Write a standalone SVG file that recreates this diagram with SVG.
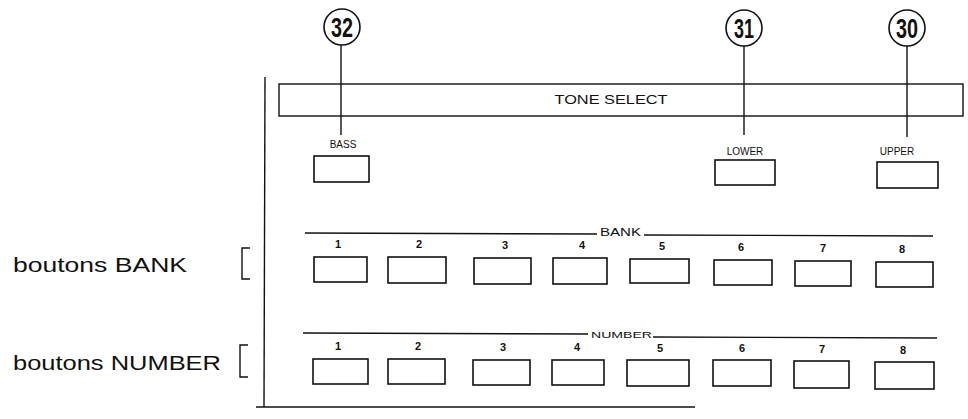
<svg xmlns="http://www.w3.org/2000/svg" width="968" height="419" viewBox="0 0 968 419">
<style>
.ln{stroke:#111;stroke-width:1.4;fill:none}
.btn{stroke:#111;stroke-width:1.6;fill:#fff}
.cir{stroke:#111;stroke-width:1.6;fill:#fff}
.cn{font-family:"Liberation Sans",Arial,sans-serif;font-weight:bold;font-size:28px;fill:#111;text-anchor:middle}
.sm{font-family:"Liberation Sans",Arial,sans-serif;font-size:10px;fill:#111;text-anchor:middle}
.hd{font-family:"Liberation Sans",Arial,sans-serif;font-size:10px;fill:#111;text-anchor:start}
.num{font-family:"Liberation Sans",Arial,sans-serif;font-weight:bold;font-size:11px;fill:#111;text-anchor:middle}
.lab{font-family:"Liberation Sans",Arial,sans-serif;font-size:21px;fill:#111}
</style>
<rect width="968" height="419" fill="#fff"/>
<g id="panel">
<line class="ln" x1="265" y1="77" x2="264" y2="407"/>
<line class="ln" x1="256" y1="407" x2="695" y2="407"/>
<rect class="ln" x="279" y="84" width="684" height="32" stroke-width="1.6"/>
<text x="611" y="104" font-family="Liberation Sans,Arial,sans-serif" font-size="13" fill="#111" text-anchor="middle" textLength="113" lengthAdjust="spacingAndGlyphs">TONE SELECT</text>
</g>
<g id="connectors">
<line class="ln" x1="341" y1="45" x2="341" y2="135"/>
<line class="ln" x1="744" y1="46" x2="744" y2="135"/>
<line class="ln" x1="907" y1="46" x2="907" y2="137"/>
</g>
<g id="c32"><circle class="cir" cx="342" cy="27" r="18"/><text class="cn" x="342" y="37" textLength="22" lengthAdjust="spacingAndGlyphs">32</text></g>
<g id="c31"><circle class="cir" cx="744" cy="28" r="18"/><text class="cn" x="744" y="38" textLength="20" lengthAdjust="spacingAndGlyphs">31</text></g>
<g id="c30"><circle class="cir" cx="907" cy="28" r="18"/><text class="cn" x="907" y="38" textLength="22" lengthAdjust="spacingAndGlyphs">30</text></g>
<g id="bass"><text class="sm" x="343" y="148">BASS</text><rect class="btn" x="314" y="156" width="55" height="26"/></g>
<g id="lower"><text class="sm" x="745" y="155">LOWER</text><rect class="btn" x="715" y="160" width="60" height="25"/></g>
<g id="upper"><text class="sm" x="897" y="155">UPPER</text><rect class="btn" x="877" y="162" width="61" height="26"/></g>
<g id="bank">
<line class="ln" x1="305" y1="233" x2="597" y2="234"/>
<text class="hd" x="600" y="236" textLength="41" lengthAdjust="spacingAndGlyphs">BANK</text>
<line class="ln" x1="644" y1="235" x2="933" y2="236"/>
<text class="num" x="338" y="248">1</text>
<text class="num" x="419" y="248">2</text>
<text class="num" x="505" y="249">3</text>
<text class="num" x="582" y="249">4</text>
<text class="num" x="662" y="250">5</text>
<text class="num" x="741" y="251">6</text>
<text class="num" x="823" y="252">7</text>
<text class="num" x="902" y="253">8</text>
<rect class="btn" x="314" y="257" width="53" height="25"/>
<rect class="btn" x="388" y="257" width="58" height="26"/>
<rect class="btn" x="474" y="258" width="57" height="26"/>
<rect class="btn" x="553" y="258" width="54" height="26"/>
<rect class="btn" x="630" y="259" width="59" height="24"/>
<rect class="btn" x="714" y="260" width="58" height="25"/>
<rect class="btn" x="795" y="261" width="56" height="25"/>
<rect class="btn" x="876" y="262" width="57" height="25"/>
</g>
<g id="number">
<line class="ln" x1="303" y1="333" x2="588" y2="334"/>
<text class="hd" x="591" y="338" textLength="61" lengthAdjust="spacingAndGlyphs" style="font-size:9px">NUMBER</text>
<line class="ln" x1="653" y1="337" x2="937" y2="338"/>
<text class="num" x="338" y="350">1</text>
<text class="num" x="418" y="350">2</text>
<text class="num" x="503" y="351">3</text>
<text class="num" x="577" y="351">4</text>
<text class="num" x="660" y="352">5</text>
<text class="num" x="742" y="352">6</text>
<text class="num" x="822" y="353">7</text>
<text class="num" x="903" y="354">8</text>
<rect class="btn" x="313" y="359" width="55" height="25"/>
<rect class="btn" x="388" y="359" width="57" height="25"/>
<rect class="btn" x="473" y="360" width="57" height="25"/>
<rect class="btn" x="552" y="360" width="52" height="25"/>
<rect class="btn" x="627" y="360" width="62" height="26"/>
<rect class="btn" x="713" y="360" width="58" height="26"/>
<rect class="btn" x="794" y="361" width="55" height="27"/>
<rect class="btn" x="875" y="362" width="59" height="27"/>
</g>
<g id="labels">
<text class="lab" x="13" y="272" textLength="174" lengthAdjust="spacingAndGlyphs">boutons BANK</text>
<path class="ln" d="M250,248 H242 V279 H250" stroke-width="2"/>
<text class="lab" x="13" y="370" textLength="208" lengthAdjust="spacingAndGlyphs">boutons NUMBER</text>
<path class="ln" d="M248,345 H240 V377 H248" stroke-width="2"/>
</g>
</svg>
